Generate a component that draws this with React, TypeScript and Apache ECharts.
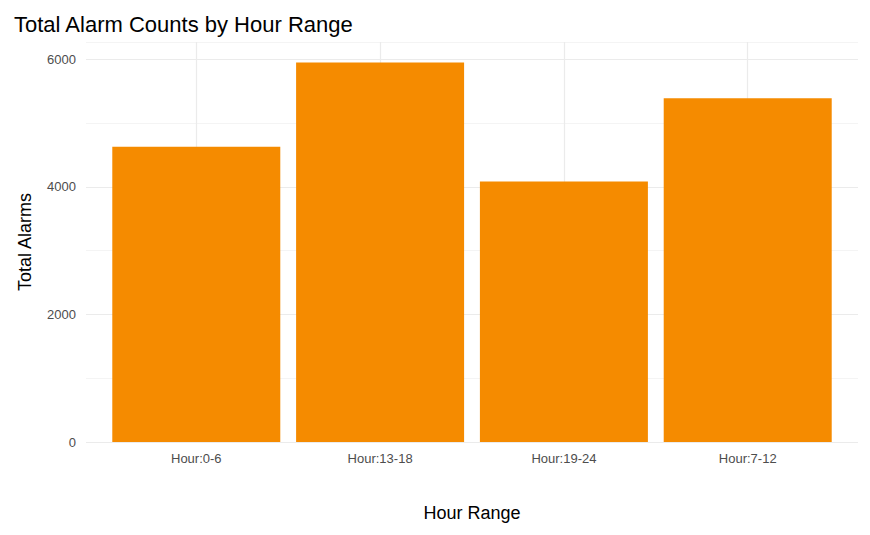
import React, { useRef, useEffect } from 'react';
import * as echarts from 'echarts';

const categories = ['Hour:0-6', 'Hour:13-18', 'Hour:19-24', 'Hour:7-12'];
const totals = [4630, 5950, 4085, 5390];
const yTicks = [0, 2000, 4000, 6000];

const App: React.FC = () => {
  const chartRef = useRef<HTMLDivElement>(null);

  useEffect(() => {
    if (!chartRef.current) return;
    const chart = echarts.init(chartRef.current, undefined, { renderer: 'svg' });
    const positions = categories.map((_, i) => i + 1);

    chart.setOption({
      animation: false,
      textStyle: { fontFamily: 'Liberation Sans, Arial, sans-serif' },
      title: {
        text: 'Total Alarm Counts by Hour Range',
        left: 1,
        top: 0,
        textStyle: { fontSize: 22, fontWeight: 'normal', color: '#000' },
      },
      grid: { left: 69, right: 4, top: 34, bottom: 72 },
      xAxis: {
        type: 'value',
        min: 0.4,
        max: 4.6,
        name: 'Hour Range',
        nameLocation: 'middle',
        nameGap: 62,
        nameTextStyle: { fontSize: 18, color: '#000' },
        axisLine: { show: false },
        axisTick: { show: false },
        splitLine: { show: false },
        axisLabel: {
          customValues: positions,
          formatter: (v: number) => categories[Math.round(v) - 1] ?? '',
          color: '#4d4d4d',
          fontSize: 13,
          margin: 10,
        },
      },
      yAxis: {
        type: 'value',
        min: 0,
        max: 6270,
        interval: 1000,
        name: 'Total Alarms',
        nameLocation: 'middle',
        nameGap: 52,
        nameTextStyle: { fontSize: 18, color: '#000' },
        axisLine: { show: false },
        axisTick: { show: false },
        axisLabel: {
          formatter: (v: number) => (yTicks.includes(v) ? String(v) : ''),
          color: '#4d4d4d',
          fontSize: 13,
          margin: 10,
        },
        splitLine: { lineStyle: { color: ['#ebebeb', '#f4f4f4'], width: 1.2 } },
      },
      series: [
        {
          type: 'line',
          data: [],
          z: 0,
          silent: true,
          markLine: {
            silent: true,
            z: 1,
            symbol: 'none',
            label: { show: false },
            lineStyle: { color: '#ebebeb', type: 'solid', width: 1.2 },
            data: positions.map((p) => ({ xAxis: p })),
          },
        },
        {
          type: 'bar',
          z: 10,
          barWidth: 168,
          itemStyle: { color: '#F58B00' },
          data: totals.map((v, i) => [positions[i], v]),
        },
      ],
    });

    return () => chart.dispose();
  }, []);

  return <div ref={chartRef} style={{ width: 854, height: 519 }} />;
};

export default App;
